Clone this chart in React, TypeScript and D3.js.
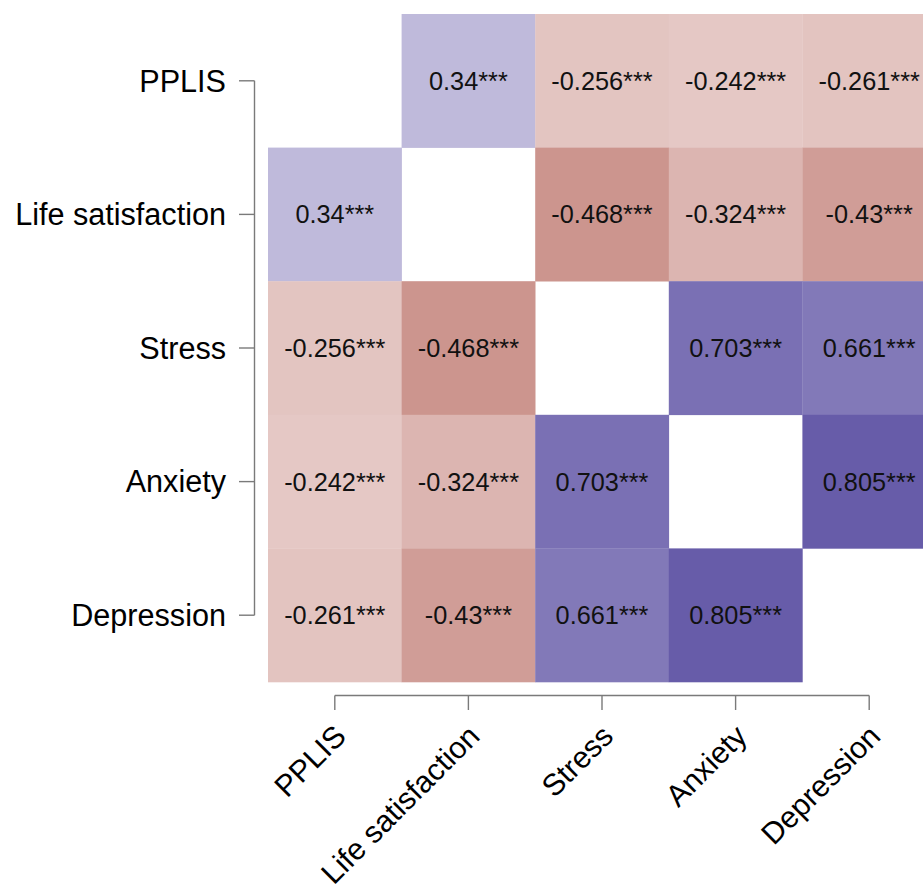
import React from "react";
import * as d3 from "d3";

const variables = ["PPLIS", "Life satisfaction", "Stress", "Anxiety", "Depression"];

// correlation matrix rows (diagonal = null)
const rowPPLIS = [null, 0.34, -0.256, -0.242, -0.261];
const rowLife = [0.34, null, -0.468, -0.324, -0.43];
const rowStress = [-0.256, -0.468, null, 0.703, 0.661];
const rowAnxiety = [-0.242, -0.324, 0.703, null, 0.805];
const rowDepression = [-0.261, -0.43, 0.661, 0.805, null];
const stars = "***";

const W = 923;
const H = 884;
const FONT = "'Liberation Sans', Arial, Helvetica, sans-serif";

export default function App() {
  const rows = [rowPPLIS, rowLife, rowStress, rowAnxiety, rowDepression];
  const x = d3.scaleBand<string>().domain(variables).range([268, 268 + 5 * 133.6]);
  const y = d3.scaleBand<string>().domain(variables).range([14, 14 + 5 * 133.6]);
  const color = d3
    .scaleLinear<string>()
    .domain([-1, 0, 1])
    .range(["#921c0e", "#ffffff", "#423494"])
    .interpolate(d3.interpolateRgb);
  const bw = x.bandwidth();
  const bh = y.bandwidth();
  const cx = (v: string) => (x(v) as number) + bw / 2;
  const cy = (v: string) => (y(v) as number) + bh / 2;
  const axisX = 254.5;
  const axisY = 695.5;
  const axisColor = "#7a7a7a";

  const cells: any[] = [];
  rows.forEach((row, i) =>
    row.forEach((val, j) => {
      if (val === null) return;
      cells.push({ r: variables[i], c: variables[j], v: val as number });
    })
  );

  return (
    <svg
      width={W}
      height={H}
      style={{ position: "absolute", left: 0, top: 0, background: "#fff" }}
      fontFamily={FONT}
    >
      <rect x={0} y={0} width={W} height={H} fill="#fff" />
      {cells.map((d, k) => (
        <g key={k}>
          <rect x={x(d.c)} y={y(d.r)} width={bw + 0.3} height={bh + 0.3} fill={color(d.v)} />
          <text
            x={cx(d.c)}
            y={cy(d.r) + 9}
            textAnchor="middle"
            fontSize={25.3}
            fill="#111"
          >
            {`${d.v}${stars}`}
          </text>
        </g>
      ))}
      {/* left axis */}
      <line
        x1={axisX}
        x2={axisX}
        y1={cy(variables[0])}
        y2={cy(variables[variables.length - 1])}
        stroke={axisColor}
        strokeWidth={1.4}
      />
      {variables.map((v) => (
        <g key={"l" + v}>
          <line x1={239} x2={axisX} y1={cy(v)} y2={cy(v)} stroke={axisColor} strokeWidth={1.4} />
          <text x={226} y={cy(v) + 10.8} textAnchor="end" fontSize={30.6} fill="#000">
            {v}
          </text>
        </g>
      ))}
      {/* bottom axis */}
      <line
        x1={cx(variables[0])}
        x2={cx(variables[variables.length - 1])}
        y1={axisY}
        y2={axisY}
        stroke={axisColor}
        strokeWidth={1.4}
      />
      {variables.map((v) => (
        <g key={"b" + v}>
          <line x1={cx(v)} x2={cx(v)} y1={axisY} y2={710} stroke={axisColor} strokeWidth={1.4} />
          <text
            transform={`translate(${cx(v) + 13},${738}) rotate(-45)`}
            textAnchor="end"
            fontSize={30.3}
            fill="#000"
          >
            {v}
          </text>
        </g>
      ))}
    </svg>
  );
}
